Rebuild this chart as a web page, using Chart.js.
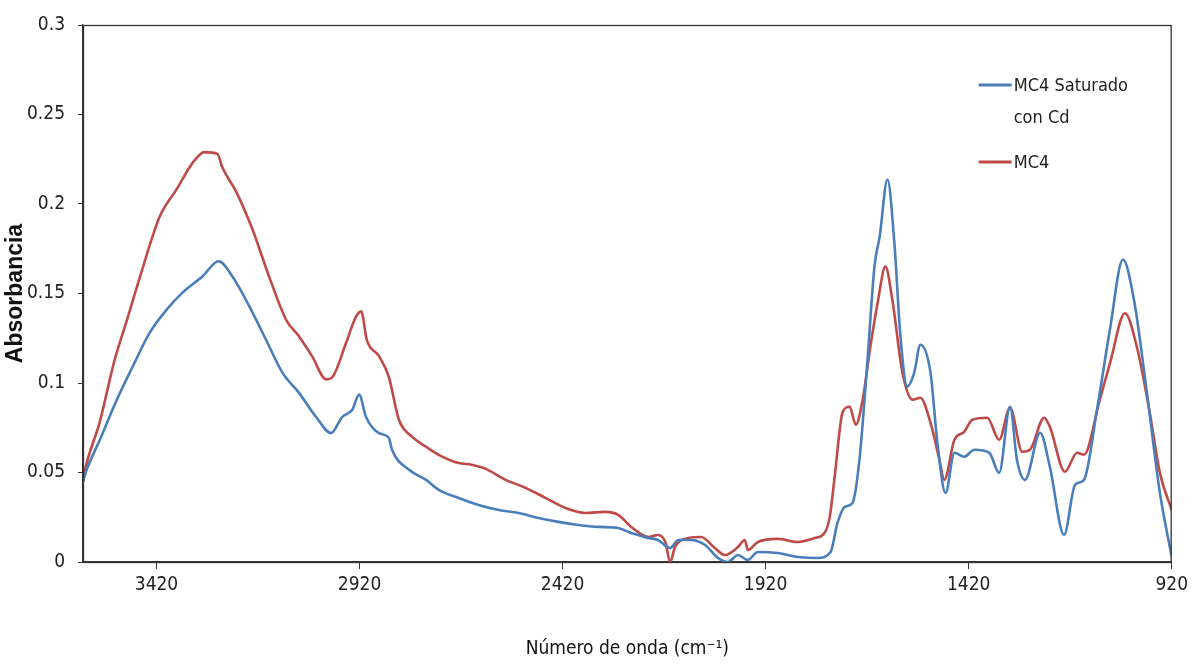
<!DOCTYPE html>
<html lang="es">
<head>
<meta charset="UTF-8">
<title>Absorbancia MC4</title>
<script src="https://cdn.jsdelivr.net/npm/chart.js"></script>
<style>
  html, body { margin: 0; padding: 0; background: #fff; }
  #wrap { width: 1193px; height: 665px; }
</style>
</head>
<body>
<div id="wrap"><canvas id="espectro"></canvas></div>
<script>
// valores (numero de onda cm-1, absorbancia)
const onda_sat = [3601, 3592, 3560, 3518, 3479, 3437, 3395, 3356, 3307, 3267, 3233, 3191, 3150, 3110, 3069, 3027, 2990, 2963, 2938, 2921, 2904, 2872, 2848, 2840, 2798, 2757, 2725, 2676, 2627, 2577, 2528, 2479, 2430, 2381, 2332, 2283, 2251, 2234, 2209, 2185, 2155, 2135, 2104, 2069, 2037, 2013, 1988, 1964, 1939, 1890, 1841, 1792, 1760, 1743, 1725, 1706, 1689, 1669, 1652, 1639, 1620, 1603, 1588, 1571, 1554, 1539, 1514, 1497, 1477, 1455, 1431, 1406, 1369, 1345, 1318, 1301, 1281, 1244, 1220, 1185, 1158, 1136, 1104, 1072, 1040, 1013, 981, 949, 920];
const abs_sat = [0.045, 0.0515, 0.068, 0.0905, 0.109, 0.128, 0.141, 0.1505, 0.1595, 0.168, 0.1595, 0.1427, 0.124, 0.1058, 0.0945, 0.081, 0.072, 0.081, 0.085, 0.0935, 0.081, 0.072, 0.0694, 0.0627, 0.0515, 0.046, 0.0403, 0.0358, 0.0319, 0.0291, 0.0274, 0.0246, 0.0224, 0.0207, 0.0196, 0.019, 0.0162, 0.0151, 0.0134, 0.0123, 0.0078, 0.0123, 0.0123, 0.0095, 0.0022, 0.0, 0.0039, 0.0011, 0.0056, 0.005, 0.0028, 0.0022, 0.0056, 0.0218, 0.0308, 0.033, 0.057, 0.113, 0.165, 0.182, 0.2137, 0.1785, 0.126, 0.098, 0.1058, 0.1214, 0.1058, 0.0666, 0.0386, 0.061, 0.0588, 0.0627, 0.061, 0.0498, 0.0867, 0.057, 0.0459, 0.0722, 0.0532, 0.0151, 0.0431, 0.0459, 0.085, 0.13, 0.169, 0.1466, 0.0945, 0.0386, 0.003];

const onda_mc4 = [3601, 3596, 3560, 3523, 3493, 3461, 3412, 3371, 3331, 3302, 3270, 3258, 3223, 3184, 3142, 3100, 3069, 3037, 3002, 2988, 2953, 2929, 2916, 2902, 2872, 2848, 2823, 2791, 2757, 2725, 2676, 2644, 2609, 2560, 2511, 2462, 2413, 2364, 2315, 2283, 2251, 2209, 2185, 2167, 2155, 2143, 2111, 2079, 2045, 2020, 1988, 1971, 1964, 1939, 1890, 1841, 1799, 1775, 1762, 1750, 1730, 1713, 1698, 1681, 1662, 1644, 1625, 1608, 1583, 1558, 1539, 1514, 1492, 1480, 1455, 1431, 1411, 1374, 1345, 1318, 1288, 1269, 1234, 1220, 1183, 1153, 1136, 1097, 1072, 1035, 1006, 974, 949, 920];
const abs_mc4 = [0.045, 0.0515, 0.078, 0.113, 0.135, 0.159, 0.193, 0.208, 0.223, 0.229, 0.228, 0.2205, 0.2065, 0.186, 0.159, 0.135, 0.126, 0.115, 0.102, 0.103, 0.1225, 0.137, 0.140, 0.124, 0.115, 0.1035, 0.0795, 0.070, 0.0645, 0.0599, 0.0553, 0.0543, 0.052, 0.0459, 0.0414, 0.0358, 0.0302, 0.0274, 0.028, 0.0263, 0.0196, 0.014, 0.0151, 0.0112, 0.0, 0.0084, 0.0134, 0.014, 0.0078, 0.0039, 0.0084, 0.0123, 0.0067, 0.0112, 0.0129, 0.0112, 0.0134, 0.0162, 0.0252, 0.0476, 0.084, 0.0867, 0.0767, 0.0907, 0.1204, 0.145, 0.165, 0.1466, 0.1058, 0.0907, 0.0918, 0.0778, 0.0571, 0.0459, 0.0683, 0.0727, 0.0795, 0.0806, 0.0683, 0.0862, 0.0616, 0.0627, 0.0806, 0.0755, 0.0504, 0.061, 0.0599, 0.0907, 0.111, 0.139, 0.1204, 0.0834, 0.0498, 0.029];

const series = ['MC4 Saturado\ncon Cd', 'MC4'];
const xTicks = [3420, 2920, 2420, 1920, 1420, 920];
const yTicks = [0, 0.05, 0.1, 0.15, 0.2, 0.25, 0.3];

function pares(xs, ys) {
  return xs.map((x, i) => ({ x: x, y: ys[i] }));
}

const fuente = "'DejaVu Sans Condensed', 'Liberation Sans Narrow', sans-serif";

// leyenda a mano: Chart.js no parte etiquetas en dos lineas
const leyenda = {
  id: 'leyenda',
  afterDraw(chart) {
    const ctx = chart.ctx;
    const a = chart.chartArea;
    const x0 = a.right - 193;
    const filas = [60, 137];
    ctx.save();
    ctx.font = '18px ' + fuente;
    ctx.fillStyle = '#222';
    ctx.textBaseline = 'middle';
    chart.data.datasets.forEach((ds, i) => {
      const y = a.top + filas[i];
      ctx.strokeStyle = ds.borderColor;
      ctx.lineWidth = 3;
      ctx.beginPath();
      ctx.moveTo(x0, y);
      ctx.lineTo(x0 + 33, y);
      ctx.stroke();
      ds.label.split('\n').forEach((t, j) => {
        ctx.fillText(t, x0 + 35, y + 1 + j * 32);
      });
    });
    ctx.restore();
  }
};

const marco = {
  id: 'marco',
  afterDatasetsDraw(chart) {
    const ctx = chart.ctx;
    const a = chart.chartArea;
    ctx.save();
    ctx.strokeStyle = '#333';
    ctx.lineWidth = 1.3;
    ctx.strokeRect(a.left + 0.5, a.top + 0.5, a.right - a.left - 1, a.bottom - a.top);
    ctx.restore();
  }
};

new Chart(document.getElementById('espectro'), {
  type: 'line',
  data: {
    datasets: [{
      label: series[0],
      data: pares(onda_sat, abs_sat),
      borderColor: '#4A7EBB',
      borderWidth: 2.6,
      pointRadius: 0,
      cubicInterpolationMode: 'monotone'
    }, {
      label: series[1],
      data: pares(onda_mc4, abs_mc4),
      borderColor: '#BE4B48',
      borderWidth: 2.6,
      pointRadius: 0,
      cubicInterpolationMode: 'monotone'
    }]
  },
  options: {
    responsive: true,
    maintainAspectRatio: false,
    animation: false,
    layout: { padding: { top: 25, right: 18, left: 0, bottom: 0 } },
    plugins: { legend: { display: false }, tooltip: { enabled: false } },
    scales: {
      x: {
        type: 'linear',
        reverse: true,
        min: 920,
        max: 3601,
        afterBuildTicks: s => { s.ticks = xTicks.map(v => ({ value: v })); },
        afterFit: s => { s.height = 103; },
        grid: { drawOnChartArea: false, drawTicks: true, tickLength: 7, color: '#333' },
        border: { display: true, color: '#333', width: 1.3 },
        ticks: {
          color: '#222',
          padding: 5,
          font: { family: fuente, size: 19 },
          callback: v => String(v)
        },
        title: {
          display: true,
          text: 'Número de onda (cm⁻¹)',
          color: '#111',
          font: { family: fuente, size: 19 },
          padding: { bottom: 5 }
        }
      },
      y: {
        min: 0,
        max: 0.3,
        afterBuildTicks: s => { s.ticks = yTicks.map(v => ({ value: v })); },
        afterFit: s => { s.width = 83; },
        grid: { drawOnChartArea: false, drawTicks: true, tickLength: 5, color: '#333' },
        border: { display: true, color: '#333', width: 1.3 },
        ticks: {
          color: '#222',
          padding: 13,
          font: { family: fuente, size: 19 },
          callback: v => String(v)
        },
        title: {
          display: true,
          text: 'Absorbancia',
          color: '#111',
          font: { family: "'Liberation Sans', Arial, sans-serif", size: 23, weight: 'bold' },
          padding: { top: 2 }
        }
      }
    }
  },
  plugins: [leyenda, marco]
});
</script>
</body>
</html>
